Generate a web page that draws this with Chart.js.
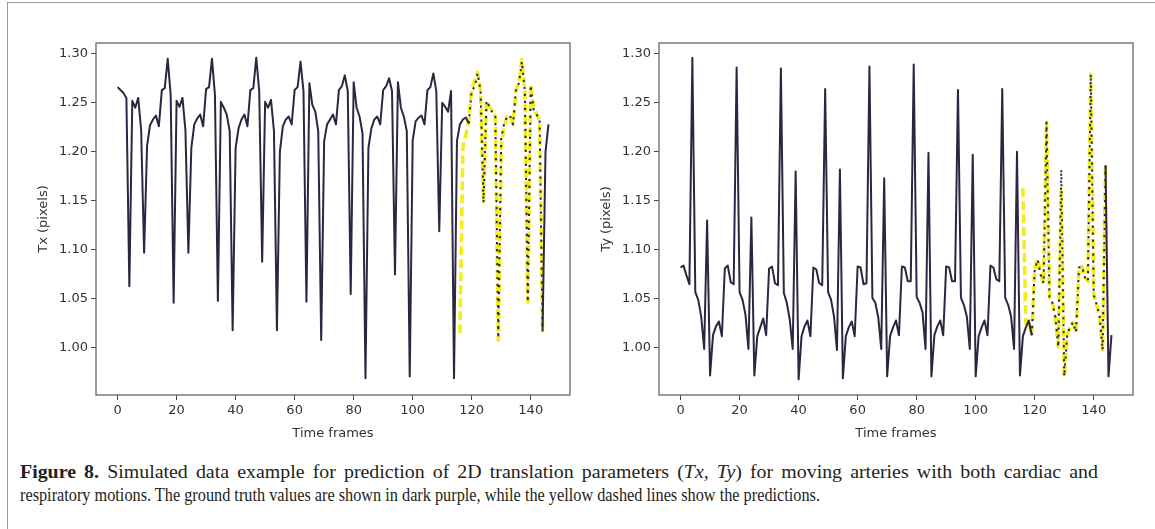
<!DOCTYPE html>
<html>
<head>
<meta charset="utf-8">
<script src="https://cdn.jsdelivr.net/npm/chart.js@4.4.1/dist/chart.umd.min.js"></script>
<style>
  body { margin: 0; background: #fff; width: 1155px; height: 529px; overflow: hidden; position: relative; }
  #frame { position: absolute; left: 7px; top: 2px; width: 1170px; height: 560px; border: 1px solid #9a9a9a; }
  canvas { position: absolute; top: 0; }
  #c1 { left: 0; }
  #c2 { left: 560px; }
  #caption { position: absolute; left: 20px; top: 460px; font-family: 'Liberation Serif', serif; font-size: 19px; color: #231f20; line-height: 23px; }
  #caption div { white-space: nowrap; transform-origin: 0 0; width: max-content; }
  #cap1 { word-spacing: 3px; }
</style>
</head>
<body>
<div id="frame"></div>
<canvas id="c1" width="590" height="460"></canvas>
<canvas id="c2" width="595" height="460"></canvas>
<div id="caption">
  <div id="cap1"><b>Figure 8.</b> Simulated data example for prediction of 2D translation parameters (<i>Tx</i>, <i>Ty</i>) for moving arteries with both cardiac and</div>
  <div id="cap2">respiratory motions. The ground truth values are shown in dark purple, while the yellow dashed lines show the predictions.</div>
</div>
<script>
// ground truth, frames 0..146
const txTruth = [
  1.266, 1.263, 1.260, 1.255, 1.063, 1.252, 1.245, 1.255, 1.222, 1.097,
  1.206, 1.227, 1.233, 1.237, 1.226, 1.263, 1.265, 1.295, 1.258, 1.046,
  1.252, 1.246, 1.255, 1.222, 1.097, 1.204, 1.228, 1.234, 1.238, 1.226,
  1.264, 1.266, 1.295, 1.258, 1.048, 1.251, 1.245, 1.238, 1.221, 1.018,
  1.204, 1.224, 1.233, 1.238, 1.226, 1.263, 1.265, 1.296, 1.262, 1.088,
  1.251, 1.245, 1.253, 1.221, 1.018, 1.200, 1.226, 1.233, 1.236, 1.228,
  1.263, 1.266, 1.292, 1.262, 1.047, 1.270, 1.248, 1.241, 1.221, 1.008,
  1.211, 1.228, 1.233, 1.238, 1.228, 1.263, 1.267, 1.278, 1.262, 1.055,
  1.271, 1.245, 1.236, 1.219, 0.969, 1.204, 1.224, 1.233, 1.236, 1.228,
  1.263, 1.267, 1.275, 1.262, 1.075, 1.271, 1.245, 1.236, 1.221, 0.971,
  1.212, 1.231, 1.235, 1.237, 1.228, 1.263, 1.266, 1.280, 1.262, 1.119,
  1.250, 1.246, 1.241, 1.262, 0.969, 1.211, 1.228, 1.233, 1.235, 1.229,
  1.263, 1.266, 1.280, 1.262, 1.148, 1.252, 1.246, 1.240, 1.236, 1.010,
  1.214, 1.229, 1.236, 1.237, 1.228, 1.263, 1.270, 1.292, 1.262, 1.047,
  1.268, 1.243, 1.238, 1.233, 1.017, 1.200, 1.228
];
const tyTruth = [
  1.082, 1.084, 1.074, 1.065, 1.296, 1.057, 1.049, 1.032, 0.999, 1.130,
  0.972, 1.013, 1.022, 1.027, 1.012, 1.081, 1.084, 1.067, 1.065, 1.286,
  1.057, 1.049, 1.034, 0.999, 1.133, 0.972, 1.012, 1.021, 1.030, 1.013,
  1.081, 1.083, 1.066, 1.064, 1.285, 1.056, 1.046, 1.029, 0.999, 1.180,
  0.968, 1.012, 1.022, 1.028, 1.012, 1.082, 1.080, 1.066, 1.064, 1.264,
  1.057, 1.049, 1.032, 0.998, 1.182, 0.969, 1.012, 1.021, 1.027, 1.012,
  1.083, 1.082, 1.065, 1.066, 1.287, 1.051, 1.046, 1.031, 0.999, 1.173,
  0.971, 1.012, 1.021, 1.028, 1.013, 1.083, 1.082, 1.068, 1.068, 1.289,
  1.052, 1.046, 1.036, 0.999, 1.199, 0.971, 1.013, 1.022, 1.028, 1.013,
  1.083, 1.082, 1.068, 1.068, 1.263, 1.051, 1.044, 1.032, 0.999, 1.197,
  0.971, 1.012, 1.021, 1.028, 1.013, 1.084, 1.082, 1.070, 1.068, 1.264,
  1.051, 1.044, 1.032, 0.999, 1.200, 0.972, 1.012, 1.021, 1.028, 1.013,
  1.080, 1.090, 1.075, 1.066, 1.230, 1.052, 1.046, 1.031, 1.001, 1.182,
  0.971, 1.013, 1.022, 1.026, 1.016, 1.082, 1.083, 1.072, 1.068, 1.279,
  1.054, 1.044, 1.032, 0.998, 1.186, 0.971, 1.013
];

// predictions, frames 116..144
const predStart = 116;
const txPred = [
  1.015, 1.205, 1.217, 1.232, 1.265, 1.272, 1.281, 1.262, 1.150, 1.252,
  1.246, 1.242, 1.236, 1.008, 1.205, 1.225, 1.236, 1.237, 1.228, 1.262,
  1.272, 1.294, 1.262, 1.047, 1.268, 1.246, 1.238, 1.232, 1.016
];
const tyPred = [
  1.163, 1.025, 1.028, 1.013, 1.080, 1.091, 1.075, 1.066, 1.230, 1.052,
  1.046, 1.031, 1.001, 1.160, 0.970, 1.013, 1.022, 1.026, 1.016, 1.082,
  1.083, 1.072, 1.068, 1.279, 1.054, 1.044, 1.032, 0.998, 1.186
];

// ground truth is drawn dotted over the prediction stretch
const testStart = 119;
const testEnd = 144;

const xTicks = [0, 20, 40, 60, 80, 100, 120, 140];
const yTicks = [1.00, 1.05, 1.10, 1.15, 1.20, 1.25, 1.30];

const truthColor = '#2e2640';
const predColor = '#f2ee1c';
const tickFont = { family: 'DejaVu Sans', size: 13 };
const textColor = '#333333';

// matplotlib-like box around the plot area
const boxPlugin = {
  id: 'box',
  beforeDatasetsDraw(chart) {
    const a = chart.chartArea;
    const ctx = chart.ctx;
    ctx.save();
    ctx.strokeStyle = '#666';
    ctx.lineWidth = 1.3;
    ctx.strokeRect(a.left, a.top, a.right - a.left, a.bottom - a.top);
    ctx.restore();
  }
};

function makeChart(id, truth, pred, yTitle, padLeft, padRight) {
  let truthPts = truth.map((v, i) => ({ x: i, y: v }));
  let predPts = pred.map((v, i) => ({ x: predStart + i, y: v }));

  return new Chart(document.getElementById(id), {
    type: 'line',
    data: {
      datasets: [
        {
          data: truthPts,
          borderColor: truthColor,
          borderWidth: 2,
          borderJoinStyle: 'round',
          pointRadius: 0,
          tension: 0,
          segment: {
            borderDash: c => (c.p0DataIndex >= testStart && c.p1DataIndex <= testEnd) ? [2.2, 4.8] : undefined
          }
        },
        {
          data: predPts,
          borderColor: predColor,
          borderWidth: 3.6,
          borderDash: [9, 4],
          borderJoinStyle: 'round',
          pointRadius: 0,
          tension: 0
        }
      ]
    },
    options: {
      responsive: false,
      animation: false,
      layout: { padding: { left: padLeft, right: padRight, top: 43, bottom: 19 } },
      plugins: { legend: { display: false }, tooltip: { enabled: false } },
      scales: {
        x: {
          type: 'linear',
          min: -7.3,
          max: 153.3,
          afterBuildTicks: a => { a.ticks = xTicks.map(v => ({ value: v })); },
          afterFit: a => { a.height = 46; },
          border: { display: false },
          grid: { drawOnChartArea: false, tickLength: 5, color: '#444', lineWidth: 1 },
          ticks: { font: tickFont, color: textColor, padding: 3, maxRotation: 0, callback: v => String(v) },
          title: { display: true, text: 'Time frames', font: tickFont, color: textColor, padding: 0 }
        },
        y: {
          min: 0.952,
          max: 1.311,
          afterBuildTicks: a => { a.ticks = yTicks.map(v => ({ value: v })); },
          afterFit: a => { a.width = 60; },
          border: { display: false },
          grid: { drawOnChartArea: false, tickLength: 5, color: '#444', lineWidth: 1 },
          ticks: { font: tickFont, color: textColor, padding: 3, callback: v => v.toFixed(2) },
          title: { display: true, text: yTitle, font: tickFont, color: textColor, padding: 0 }
        }
      }
    },
    plugins: [boxPlugin]
  });
}

makeChart('c1', txTruth, txPred, 'Tx (pixels)', 36, 20);
makeChart('c2', tyTruth, tyPred, 'Ty (pixels)', 39, 22);

// squeeze/stretch each caption line to the printed width
function fitLine(id, target) {
  let el = document.getElementById(id);
  let w = el.getBoundingClientRect().width;
  el.style.transform = 'scaleX(' + (target / w) + ')';
}
fitLine('cap1', 1078);
fitLine('cap2', 800);
</script>
</body>
</html>
